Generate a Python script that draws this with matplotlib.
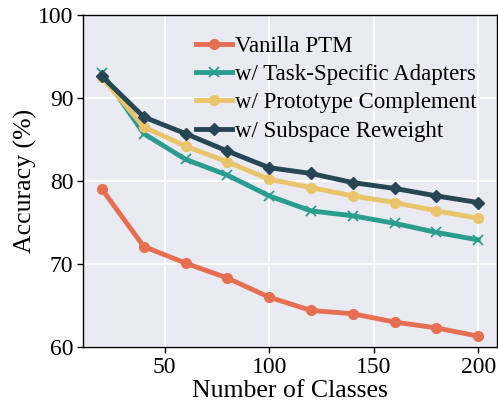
import matplotlib
import matplotlib.pyplot as plt

matplotlib.use("Agg")

BG = "#EAEAF2"

num_classes = [20, 40, 60, 80, 100, 120, 140, 160, 180, 200]
vanilla_ptm = [79.0, 72.1, 70.1, 68.3, 66.0, 64.4, 64.0, 63.0, 62.3, 61.3]
task_adapters = [93.0, 85.7, 82.6, 80.7, 78.2, 76.4, 75.8, 74.9, 73.8, 72.9]
proto_complement = [92.5, 86.5, 84.2, 82.3, 80.2, 79.2, 78.2, 77.4, 76.4, 75.5]
subspace_reweight = [92.6, 87.7, 85.7, 83.6, 81.6, 80.9, 79.8, 79.1, 78.2, 77.4]

series_labels = [
    "Vanilla PTM",
    "w/ Task-Specific Adapters",
    "w/ Prototype Complement",
    "w/ Subspace Reweight",
]
series_colors = ["#E76F51", "#2A9D8F", "#E9C46A", "#264653"]
series_markers = ["o", "x", "o", "D"]

plt.rcParams["font.family"] = ["Liberation Serif", "DejaVu Serif"]

fig = plt.figure(figsize=(4.98, 4.03), dpi=100)
ax = fig.add_axes([0.167, 0.139, 0.831, 0.824])
ax.set_facecolor(BG)
ax.grid(True, color="white", linewidth=1.5, zorder=0)
ax.set_axisbelow(True)

all_series = [vanilla_ptm, task_adapters, proto_complement, subspace_reweight]
for values, label, color, marker in zip(all_series, series_labels, series_colors, series_markers):
    ms = 6 if marker == "D" else 7
    ax.plot(num_classes, values, color=color, linewidth=3.5, marker=marker,
            markersize=ms, markeredgewidth=1.3 if marker == "x" else 1.0,
            label=label, zorder=3)

ax.set_ylim(60, 100)
ax.set_yticks([60, 70, 80, 90, 100])
ax.set_xticks([50, 100, 150, 200])
ax.tick_params(axis="both", labelsize=17, colors="black", length=4, width=1, pad=3)
for spine in ax.spines.values():
    spine.set_edgecolor("black")
    spine.set_linewidth(1.0)

ax.set_xlabel("Number of Classes", fontsize=18.5, labelpad=2)
ax.set_ylabel("Accuracy (%)", fontsize=18.5, labelpad=1)

ax.legend(loc="upper right", frameon=False, fontsize=16.5, handlelength=1.6,
          handletextpad=0.1, labelspacing=0.32, borderaxespad=0.5)

fig.savefig("out.png", dpi=100, facecolor="white")
